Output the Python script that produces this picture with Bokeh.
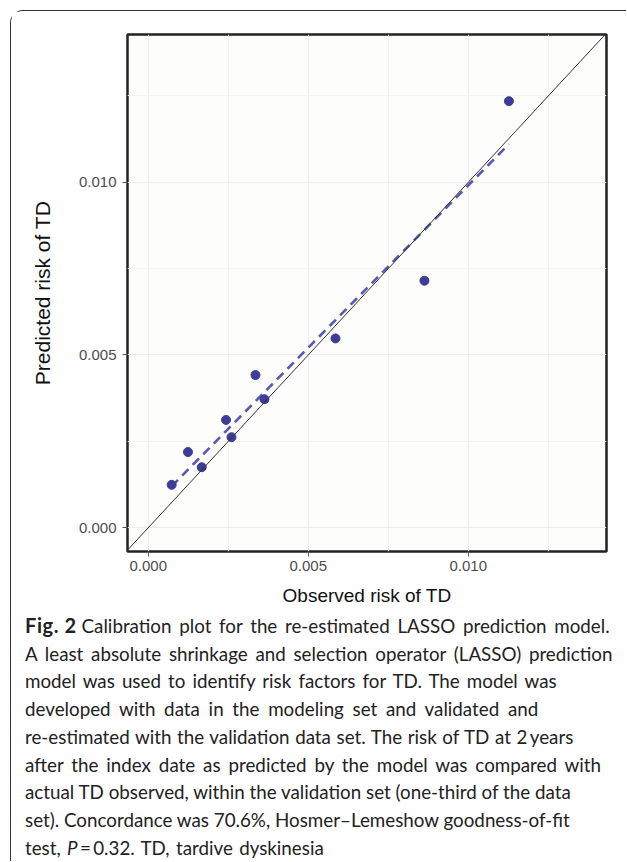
import numpy as np
from bokeh.plotting import figure
from bokeh.layouts import column
from bokeh.models import (Range1d, FixedTicker, NumeralTickFormatter, Slope, Div)
from bokeh.embed import file_html
from bokeh.resources import INLINE

# ---------------- data ----------------
observed = [0.00073, 0.00124, 0.00167, 0.00243, 0.00260,
            0.00335, 0.00363, 0.00585, 0.00863, 0.01127]
predicted = [0.00124, 0.00219, 0.00175, 0.00312, 0.00262,
             0.00442, 0.00372, 0.00548, 0.00715, 0.01235]
tick_values = [0.0, 0.005, 0.010]
minor_tick_values = [0.0025, 0.0075, 0.0125]
x_limits = (-0.00065, 0.01432)
y_limits = (-0.00069, 0.01428)
x_title = "Observed risk of TD"
y_title = "Predicted risk of TD"
caption_bold = "Fig. 2"
caption_lines = [
    "Calibration plot for the re-estimated LASSO prediction model.",
    "A least absolute shrinkage and selection operator (LASSO) prediction",
    "model was used to identify risk factors for TD. The model was",
    "developed with data in the modeling set and validated and",
    "re-estimated with the validation data set. The risk of TD at 2\u2009years",
    "after the index date as predicted by the model was compared with",
    "actual TD observed, within the validation set (one-third of the data",
    "set). Concordance was 70.6%, Hosmer\u2013Lemeshow goodness-of-fit",
]
caption_last = ["test,", "P", "=\u20090.32. TD, tardive dyskinesia"]
# extra word spacing per caption line (px), to follow the reference's line ends
line_word_spacing = [2.9, 2.9, 2.3, 3.9, 0.8, 3.1, 0.0, 0.0, 1.5]

# ---------------- layout constants ----------------
FIG_W, FIG_H = 615, 600
ML, MT = 116, 23
FW, FH = 479, 517
MR = FIG_W - ML - FW
MB = FIG_H - MT - FH

p = figure(width=FIG_W, height=FIG_H, output_backend="svg", toolbar_location=None,
           x_range=Range1d(*x_limits), y_range=Range1d(*y_limits),
           min_border_left=ML, min_border_right=MR, min_border_top=MT,
           min_border_bottom=MB)
p.background_fill_color = "#FDFDFC"
p.border_fill_color = "white"
p.outline_line_color = "#222222"
p.outline_line_width = 2.5

ticker = FixedTicker(ticks=tick_values, minor_ticks=minor_tick_values)
for ax in (p.xaxis[0], p.yaxis[0]):
    ax.ticker = ticker
    ax.formatter = NumeralTickFormatter(format="0.000")
    ax.axis_line_color = None
    ax.major_tick_out = 5
    ax.major_tick_in = 0
    ax.major_tick_line_color = "#555555"
    ax.minor_tick_line_color = None
    ax.major_label_text_font = "Liberation Sans"
    ax.major_label_text_font_size = "15px"
    ax.major_label_text_color = "#4D4D4D"
    ax.axis_label_text_font = "Liberation Sans"
    ax.axis_label_text_font_style = "normal"
    ax.axis_label_text_color = "#111111"

p.xaxis.major_label_standoff = 4
p.yaxis.major_label_standoff = 6
p.xaxis.axis_label = x_title
p.yaxis.axis_label = y_title
p.xaxis.axis_label_text_font_size = "19px"
p.yaxis.axis_label_text_font_size = "21px"
p.xaxis.axis_label_standoff = 11
p.yaxis.axis_label_standoff = 22

for g in (p.xgrid[0], p.ygrid[0]):
    g.ticker = ticker
    g.grid_line_color = "#ECECEC"
    g.grid_line_width = 1
    g.minor_grid_line_color = "#F3F3F3"
    g.minor_grid_line_width = 1

# identity line
p.add_layout(Slope(gradient=1, y_intercept=0, line_color="#333333", line_width=1))

# linear fit of the calibration points (dashed)
coef = np.polyfit(observed, predicted, 1)
fit_x = np.array([min(observed), max(observed)])
fit_y = np.polyval(coef, fit_x)
p.line(fit_x, fit_y, line_color="#5959B2", line_width=2.6, line_dash="9 6")

p.scatter(observed, predicted, size=9, fill_color="#3D3D98", line_color="#3D3D98")

# ---------------- caption ----------------
def span(txt, ws):
    return "<span style='word-spacing:%.1fpx'>%s</span>" % (ws, txt)


parts = []
parts.append("<b style='font-size:20px;letter-spacing:0.6px'>" + caption_bold + "</b> "
             + span(caption_lines[0], line_word_spacing[0]))
for txt, ws in zip(caption_lines[1:], line_word_spacing[1:-1]):
    parts.append(span(txt, ws))
last = caption_last[0] + " <i>" + caption_last[1] + "</i>\u2009" + caption_last[2]
parts.append(span(last, line_word_spacing[-1]))
html = "<br>".join(parts)
caption = Div(
    text=("<div style=\"font-family:Lato;font-size:18.8px;line-height:27.7px;"
          "color:#222222;white-space:nowrap;padding-left:14px;padding-top:1px;\">"
          + html + "</div>"),
    width=FIG_W, height=250, margin=0)

layout = column(p, caption, spacing=0,
                styles={"border-left": "1.5px solid #333333",
                        "border-top": "1.5px solid #333333",
                        "border-top-left-radius": "13px",
                        "margin-left": "10px", "margin-top": "10px"})

open("out.html", "w").write(file_html(layout, INLINE))
